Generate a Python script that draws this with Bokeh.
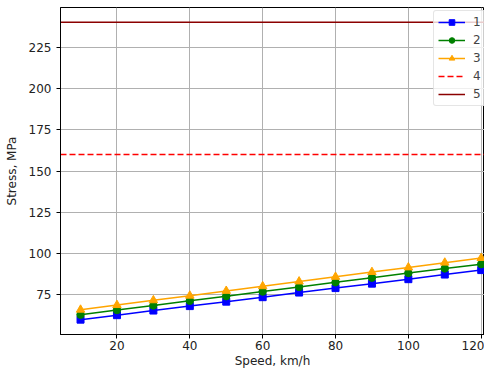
from bokeh.plotting import figure
from bokeh.models import Range1d, FixedTicker
from bokeh.embed import file_html
from bokeh.resources import INLINE

# ---- data ----
speed = [10, 20, 30, 40, 50, 60, 70, 80, 90, 100, 110, 120]
stress_1 = [60.0, 62.7, 65.5, 68.2, 70.9, 73.6, 76.4, 79.1, 81.8, 84.5, 87.3, 90.0]
stress_2 = [63.0, 65.8, 68.6, 71.4, 74.2, 77.0, 79.8, 82.6, 85.4, 88.2, 91.0, 93.6]
stress_3 = [66.0, 68.8, 71.7, 74.5, 77.4, 80.2, 83.1, 85.9, 88.8, 91.6, 94.5, 97.3]
limit_4 = 160
limit_5 = 240
labels = ["1", "2", "3", "4", "5"]
x_ticks = [20, 40, 60, 80, 100, 120]
y_ticks = [75, 100, 125, 150, 175, 200, 225]

X_START, X_END = 4.5, 120.9
Y_START, Y_END = 51, 249

FONT = "DejaVu Sans"
FS = "12px"

p = figure(width=484, height=370, output_backend="svg", toolbar_location=None,
           x_range=Range1d(X_START, X_END), y_range=Range1d(Y_START, Y_END),
           min_border_left=60, min_border_right=0, min_border_top=7, min_border_bottom=34)

p.outline_line_color = "black"
p.outline_line_width = 1
p.background_fill_color = "white"
p.border_fill_color = "white"

for ax in (p.xaxis[0], p.yaxis[0]):
    ax.major_tick_in = 0
    ax.major_tick_out = 4
    ax.minor_tick_in = 0
    ax.minor_tick_out = 0
    ax.axis_line_color = "black"
    ax.major_tick_line_color = "black"
    ax.major_label_text_font = FONT
    ax.major_label_text_font_size = FS
    ax.major_label_text_color = "#222222"
    ax.axis_label_text_font = FONT
    ax.axis_label_text_font_size = FS
    ax.axis_label_text_font_style = "normal"
    ax.axis_label_text_color = "#222222"

p.xaxis.ticker = FixedTicker(ticks=x_ticks)
p.yaxis.ticker = FixedTicker(ticks=y_ticks)
p.xaxis.axis_label = "Speed, km/h"
p.yaxis.axis_label = "Stress, MPa"
p.xaxis.major_label_standoff = 2
p.xaxis.axis_label_standoff = 1
p.yaxis.major_label_standoff = 5
p.yaxis.axis_label_standoff = 7

p.grid.grid_line_color = "#b0b0b0"
p.grid.grid_line_width = 1

lw = 1.5
p.line(speed, stress_1, color="blue", line_width=lw, legend_label=labels[0])
p.scatter(speed, stress_1, marker="square", size=7, color="blue", legend_label=labels[0])
p.line(speed, stress_2, color="green", line_width=lw, legend_label=labels[1])
p.scatter(speed, stress_2, marker="circle", size=7.5, color="green", legend_label=labels[1])
p.line(speed, stress_3, color="orange", line_width=lw, legend_label=labels[2])
p.scatter(speed, stress_3, marker="triangle", size=8.5, color="orange", legend_label=labels[2])
p.line([X_START, X_END], [limit_4, limit_4], color="red", line_width=lw,
       line_dash="6 3", legend_label=labels[3])
p.line([X_START, X_END], [limit_5, limit_5], color="darkred", line_width=lw,
       legend_label=labels[4])

lg = p.legend[0]
lg.location = (373, 228)
lg.glyph_width = 27
lg.glyph_height = 14
lg.label_height = 14
lg.spacing = 4
lg.padding = 4
lg.margin = 0
lg.label_standoff = 8
lg.label_text_font = FONT
lg.label_text_font_size = FS
lg.border_line_color = "#cccccc"
lg.background_fill_alpha = 0.8
if "border_radius" in lg.properties():
    lg.border_radius = 3

open("out.html", "w").write(file_html(p, INLINE))
